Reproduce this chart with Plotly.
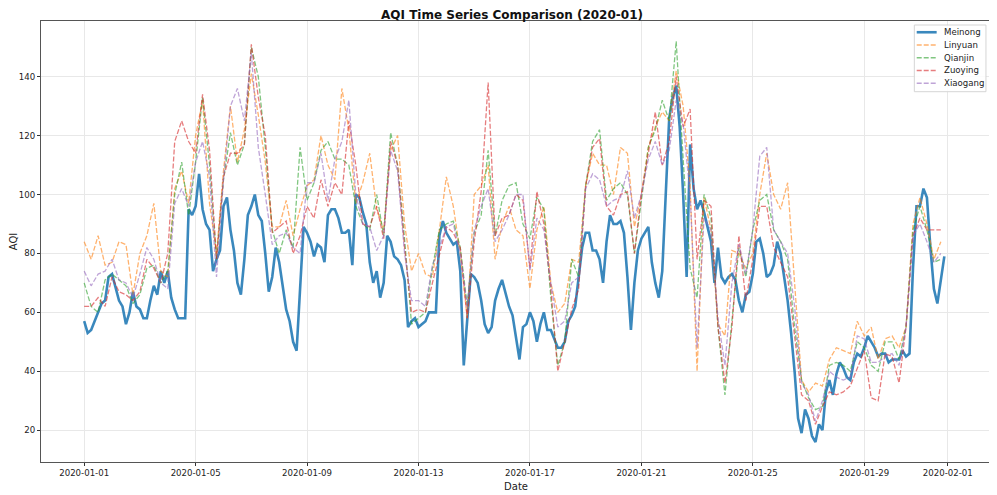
import pandas as pd
import plotly.graph_objects as go

# 3-hourly readings for Meinong (from 2020-01-01 00:00)
meinong = [
    57, 53, 54, 57, 60, 63, 64, 72, 73, 68,
    64, 62, 56, 60, 67, 62, 61, 58, 58, 64,
    69, 66, 74, 70, 74, 65, 61, 58, 58, 58,
    95, 93, 96, 107, 95, 90, 88, 74, 78, 81,
    96, 99, 88, 81, 70, 66, 78, 93, 96, 100,
    93, 91, 80, 67, 72, 82, 77, 69, 61, 57,
    50, 47, 70, 89, 87, 84, 79, 83, 82, 77,
    93, 95, 95, 92, 87, 87, 88, 76, 100, 99,
    94, 90, 77, 70, 74, 65, 70, 86, 84, 79,
    78, 76, 71, 55, 57, 58, 55, 56, 57, 60,
    60, 60, 86, 91, 87, 85, 83, 84, 74, 42,
    57, 73, 72, 70, 64, 56, 53, 55, 64, 68,
    71, 66, 62, 59, 52, 44, 55, 56, 60, 57,
    50, 56, 60, 54, 54, 51, 48, 48, 50, 57,
    59, 62, 72, 82, 87, 87, 81, 81, 78, 70,
    84, 93, 90, 90, 91, 87, 72, 54, 70, 81,
    85, 87, 89, 77, 70, 65, 74, 100, 126, 133,
    137, 123, 100, 72, 117, 102, 95, 98, 94, 89,
    84, 70, 82, 72, 70, 72, 73, 71, 64, 60,
    66, 67, 73, 84, 85, 80, 72, 73, 76, 84,
    80, 72, 64, 53, 40, 24, 19, 27, 24, 18,
    16, 22, 20, 33, 37, 32, 39, 43, 41, 38,
    37, 43, 46, 45, 48, 52, 50, 48, 45, 46,
    46, 43, 44, 44, 44, 47, 45, 46, 75, 96,
    96, 102, 99, 82, 68, 63, 71, 79,
]

# 6-hourly readings for the other stations
linyuan = [
    84, 78, 86, 76, 77, 84, 83, 66, 80, 86, 97, 74, 72, 102, 108, 97,
    120, 132, 97, 80, 108, 130, 111, 122, 141, 127, 111, 89, 89, 98, 86, 95,
    103, 105, 120, 110, 105, 136, 122, 97, 104, 114, 95, 88, 115, 120, 90,
    74, 80, 73, 72, 88, 106, 96, 80, 58, 100, 103, 110, 78, 90, 96, 88,
    86, 68, 88, 96, 70, 60, 63, 78, 77, 103, 114, 110, 110, 100, 116, 114,
    89, 100, 116, 123, 128, 125, 142, 130, 103, 40, 99, 88, 56, 52, 81, 80,
    75, 80, 100, 114, 100, 95, 104, 70, 37, 33, 36, 35, 44, 48, 47, 46,
    57, 52, 55, 44, 51, 52, 48, 55, 90, 99, 90, 78, 84,
]
qianjin = [
    70, 62, 60, 71, 73, 71, 69, 63, 66, 75, 76, 70, 74, 100, 111, 93,
    111, 133, 110, 78, 105, 121, 110, 117, 150, 140, 116, 88, 80, 88, 82, 116,
    98, 104, 115, 118, 112, 112, 110, 96, 90, 88, 100, 86, 121, 110, 85,
    56, 58, 60, 75, 88, 90, 91, 82, 62, 87, 93, 115, 86, 98, 103, 104,
    90, 85, 99, 95, 65, 42, 50, 78, 72, 103, 118, 122, 98, 102, 104, 100,
    80, 98, 116, 122, 132, 125, 152, 112, 75, 65, 100, 92, 55, 32, 57, 82,
    72, 88, 98, 100, 88, 84, 78, 55, 37, 31, 27, 28, 42, 43, 42, 40,
    50, 48, 42, 40, 50, 50, 44, 55, 88, 96, 88, 77, 78,
]
zuoying = [
    62, 62, 65, 62, 72, 67, 66, 64, 67, 78, 75, 70, 80, 118, 125, 118,
    114, 134, 115, 78, 106, 114, 114, 117, 151, 133, 120, 87, 89, 91, 80, 86,
    96, 92, 105, 96, 104, 100, 125, 110, 90, 89, 96, 85, 118, 110, 82,
    60, 61, 60, 70, 80, 89, 87, 82, 58, 84, 101, 138, 86, 92, 93, 100,
    98, 75, 101, 90, 68, 40, 50, 61, 68, 103, 116, 119, 96, 93, 100, 101,
    80, 100, 114, 128, 110, 118, 140, 123, 129, 78, 98, 96, 55, 36, 55, 86,
    64, 78, 96, 96, 82, 77, 72, 52, 32, 30, 22, 28, 33, 32, 33, 35,
    41, 47, 31, 30, 46, 45, 36, 55, 86, 92, 88, 88, 88,
]
xiaogang = [
    74, 69, 73, 74, 78, 71, 70, 65, 73, 82, 78, 70, 68, 97, 102, 96,
    111, 118, 106, 72, 105, 130, 136, 125, 148, 116, 100, 83, 86, 87, 82, 80,
    104, 104, 114, 98, 112, 118, 132, 100, 90, 89, 81, 86, 115, 108, 80,
    64, 64, 62, 76, 82, 89, 90, 80, 62, 88, 96, 102, 84, 88, 93, 100,
    100, 74, 92, 88, 70, 55, 57, 70, 72, 102, 107, 105, 96, 98, 99, 108,
    92, 100, 112, 118, 110, 115, 132, 124, 100, 48, 92, 88, 58, 42, 70, 83,
    73, 88, 113, 116, 88, 84, 80, 62, 36, 32, 23, 30, 40, 38, 37, 38,
    52, 51, 43, 43, 45, 46, 42, 55, 86, 90, 84, 77, 80,
]

tick_dates = ["2020-01-01", "2020-01-05", "2020-01-09", "2020-01-13",
              "2020-01-17", "2020-01-21", "2020-01-25", "2020-01-29",
              "2020-02-01"]

fine_times = pd.date_range("2020-01-01", periods=len(meinong), freq="3h")
coarse_times = pd.date_range("2020-01-01", periods=len(linyuan), freq="6h")

series = [
    ("Meinong", fine_times, meinong, "rgba(31,119,180,0.88)", 2.6, "solid"),
    ("Linyuan", coarse_times, linyuan, "rgba(255,127,14,0.6)", 1.3, "5px,2px"),
    ("Qianjin", coarse_times, qianjin, "rgba(44,160,44,0.6)", 1.3, "5px,2px"),
    ("Zuoying", coarse_times, zuoying, "rgba(214,39,40,0.6)", 1.3, "5px,2px"),
    ("Xiaogang", coarse_times, xiaogang, "rgba(148,103,189,0.6)", 1.3, "5px,2px"),
]

fig = go.Figure()
for name, xs, vals, color, width, dash in series:
    fig.add_trace(go.Scatter(
        x=xs, y=vals, name=name, mode="lines",
        line=dict(color=color, width=width, dash=dash),
    ))

# Compact legend (matplotlib-like), drawn in paper coordinates
shapes = []
annotations = []
leg_x0, leg_x1, leg_y0, leg_y1 = 0.9193, 0.9947, 0.8397, 0.9909
shapes.append(dict(type="rect", xref="paper", yref="paper",
                   x0=leg_x0, x1=leg_x1, y0=leg_y0, y1=leg_y1,
                   line=dict(color="#d5d5d5", width=1),
                   fillcolor="rgba(255,255,255,0.85)", layer="above"))
row_y_top = 0.9745
row_step = 0.0289
for i, (name, xs, vals, color, width, dash) in enumerate(series):
    yy = row_y_top - i * row_step
    shapes.append(dict(type="line", xref="paper", yref="paper",
                       x0=0.9218, x1=0.9428, y0=yy, y1=yy,
                       line=dict(color=color, width=width, dash=dash),
                       layer="above"))
    annotations.append(dict(text=name, xref="paper", yref="paper",
                            x=0.9487, y=yy, xanchor="left", yanchor="middle",
                            showarrow=False, font=dict(size=8.6, color="#222")))

fig.update_layout(
    width=989, height=487,
    margin=dict(l=33, r=6, t=13, b=33),
    paper_bgcolor="white", plot_bgcolor="white",
    font=dict(family="DejaVu Sans", size=8.6, color="#222"),
    title=dict(text="<b>AQI Time Series Comparison (2020-01)</b>",
               x=0.5096, xanchor="center", y=0.9855, yanchor="middle",
               font=dict(size=12, color="#111")),
    showlegend=False,
    shapes=shapes,
    annotations=annotations,
)
fig.update_xaxes(
    type="date", range=["2019-12-30 10:48", "2020-02-02 13:12"],
    tickvals=tick_dates, ticktext=tick_dates,
    ticks="outside", ticklen=3, tickcolor="#333",
    showline=True, linecolor="#555", linewidth=1, mirror=True,
    showgrid=True, gridcolor="#e8e8e8", gridwidth=0.8, zeroline=False,
    title=dict(text="Date", standoff=5), automargin=False,
)
fig.update_yaxes(
    range=[9.2, 158.9], tick0=0, dtick=20,
    ticks="outside", ticklen=3, tickcolor="#333",
    showline=True, linecolor="#555", linewidth=1, mirror=True,
    showgrid=True, gridcolor="#e8e8e8", gridwidth=0.8, zeroline=False,
    title=dict(text="AQI", standoff=3), automargin=False,
)

fig.write_html("out.html")
